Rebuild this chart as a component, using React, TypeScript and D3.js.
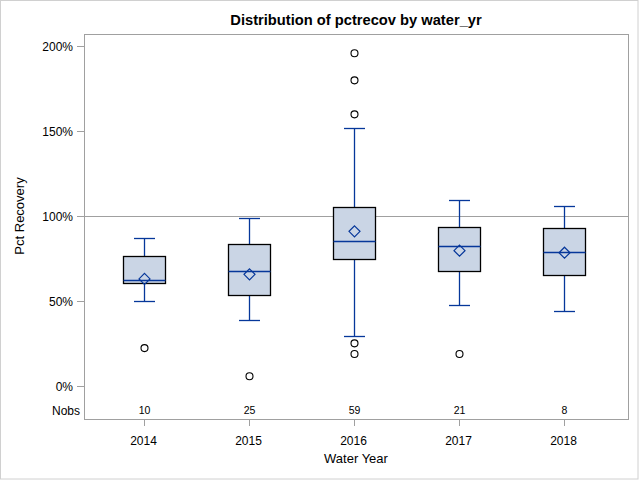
import React from "react";
import * as d3 from "d3";

const years = ["2014", "2015", "2016", "2017", "2018"];
const nobs = [10, 25, 59, 21, 8];
const q1 = [60.3, 53.3, 74.5, 67.6, 65.1];
const median = [62.5, 67.6, 85.1, 82.2, 78.8];
const q3 = [76.5, 83.3, 105.1, 93.4, 92.8];
const whiskerLow = [50.0, 38.6, 29.4, 47.5, 43.9];
const whiskerHigh = [86.9, 98.6, 151.6, 109.2, 105.7];
const means = [63.0, 65.7, 91.0, 79.6, 78.4];
const outliers = [[22.3], [5.7], [195.7, 179.8, 159.8, 25.1, 18.8], [18.8], []];
const yTicks = [0, 50, 100, 150, 200];
const refValue = 100;

const W = 640;
const H = 480;
const frame = { left: 84, right: 628, top: 34, bottom: 419 };
const font = "'Liberation Sans', Arial, sans-serif";
const boxFill = "#CAD5E5";
const blue = "#06379A";
const axisGray = "#A0A0A0";

export default function App() {
  const x = d3.scalePoint<string>().domain(years).range([143.5, 563.5]);
  const y = d3.scaleLinear().domain([0, 200]).range([386, 46]);
  const boxW = 42;
  const capW = 21;
  const fmt = (v: number) => `${v}%`;

  return (
    <div style={{ position: "fixed", left: 0, top: 0 }}>
      <svg width={W} height={H} style={{ display: "block" }}>
        <rect x={0} y={0} width={W} height={H} fill="#fff" />
        <rect x={0.5} y={0.5} width={637.5} height={478.5} fill="none" stroke="#D0D0D0" />
        <text x={(frame.left + frame.right) / 2} y={25} textAnchor="middle" fontFamily={font} fontWeight="bold" fontSize={14.7} fill="#000">
          Distribution of pctrecov by water_yr
        </text>
        {/* reference line */}
        <line x1={frame.left} x2={frame.right} y1={Math.round(y(refValue)) + 0.5} y2={Math.round(y(refValue)) + 0.5} stroke={axisGray} strokeWidth={1} />
        {/* boxes */}
        {years.map((yr, i) => {
          const cx = Math.round(x(yr)!) + 0.5;
          const r = (v: number) => Math.round(y(v)) + 0.5;
          return (
            <g key={yr}>
              <line x1={cx} x2={cx} y1={r(whiskerHigh[i])} y2={r(q3[i])} stroke={blue} strokeWidth={1.3} />
              <line x1={cx} x2={cx} y1={r(q1[i])} y2={r(whiskerLow[i])} stroke={blue} strokeWidth={1.3} />
              <line x1={cx - capW / 2} x2={cx + capW / 2} y1={r(whiskerHigh[i])} y2={r(whiskerHigh[i])} stroke={blue} strokeWidth={1.3} />
              <line x1={cx - capW / 2} x2={cx + capW / 2} y1={r(whiskerLow[i])} y2={r(whiskerLow[i])} stroke={blue} strokeWidth={1.3} />
              <rect x={cx - boxW / 2} y={r(q3[i])} width={boxW} height={r(q1[i]) - r(q3[i])} fill={boxFill} stroke="#000" strokeWidth={1.3} />
              <line x1={cx - boxW / 2} x2={cx + boxW / 2} y1={r(median[i])} y2={r(median[i])} stroke={blue} strokeWidth={1.3} />
              <path
                d={`M${cx},${y(means[i]) - 5.5}L${cx + 5.5},${y(means[i])}L${cx},${y(means[i]) + 5.5}L${cx - 5.5},${y(means[i])}Z`}
                fill="none"
                stroke={blue}
                strokeWidth={1.2}
              />
              {outliers[i].map((v, j) => (
                <circle key={j} cx={cx} cy={y(v)} r={3.5} fill="#fff" stroke="#000" strokeWidth={1.1} />
              ))}
              <text x={cx} y={414} textAnchor="middle" fontFamily={font} fontSize={10.5} fill="#000">
                {nobs[i]}
              </text>
            </g>
          );
        })}
        {/* frame */}
        <rect x={frame.left + 0.5} y={frame.top + 0.5} width={frame.right - frame.left} height={frame.bottom - frame.top} fill="none" stroke={axisGray} />
        {/* y axis ticks */}
        {yTicks.map((t) => (
          <g key={t}>
            <line x1={frame.left - 7} x2={frame.left} y1={Math.round(y(t)) + 0.5} y2={Math.round(y(t)) + 0.5} stroke={axisGray} />
            <text x={frame.left - 11} y={y(t) + 4.5} textAnchor="end" fontFamily={font} fontSize={12} fill="#000">
              {fmt(t)}
            </text>
          </g>
        ))}
        <text x={frame.left - 4} y={414.5} textAnchor="end" fontFamily={font} fontSize={12} fill="#000">
          Nobs
        </text>
        <text transform={`translate(24,${(y(0) + y(200)) / 2}) rotate(-90)`} textAnchor="middle" fontFamily={font} fontSize={13} fill="#000">
          Pct Recovery
        </text>
        {/* x axis */}
        {years.map((yr) => (
          <g key={yr}>
            <line x1={Math.round(x(yr)!) + 0.5} x2={Math.round(x(yr)!) + 0.5} y1={frame.bottom} y2={frame.bottom + 7} stroke={axisGray} />
            <text x={x(yr)!} y={445} textAnchor="middle" fontFamily={font} fontSize={12} fill="#000">
              {yr}
            </text>
          </g>
        ))}
        <text x={(frame.left + frame.right) / 2} y={463} textAnchor="middle" fontFamily={font} fontSize={13} fill="#000">
          Water Year
        </text>
      </svg>
    </div>
  );
}
